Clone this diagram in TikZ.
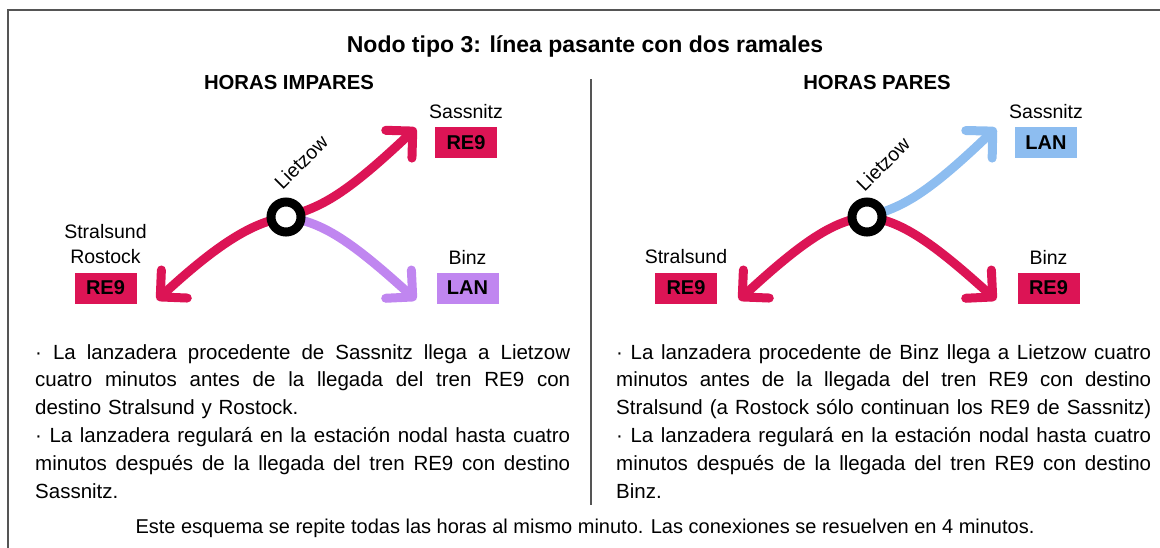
\documentclass[tikz,border=0pt]{standalone}
\usepackage{fontspec}
\setmainfont{Liberation Sans}
\usetikzlibrary{positioning,arrows.meta}
\definecolor{reline}{HTML}{DC1455}
\definecolor{lanlila}{HTML}{C086F0}
\definecolor{lanblue}{HTML}{8DBDF0}
\definecolor{framegray}{HTML}{555555}
\newcommand{\jline}[1]{\makebox[535pt][s]{\spaceskip=0pt\xspaceskip=0pt\relax #1}}

\begin{document}
\begin{tikzpicture}[
		x=1pt, y=-1pt,
		>={Straight Barb[angle=90:27pt, round]},
		train/.style={line width=9pt, line cap=round, ->},
		station/.style={circle, draw=black, fill=white, line width=9pt, minimum size=30pt, inner sep=0pt},
		linebox/.style={minimum width=62pt, minimum height=31pt, inner sep=0pt, font=\fontsize{20}{24}\selectfont\bfseries},
		place/.style={inner sep=0pt, align=center, font=\fontsize{19.5}{25}\selectfont},
		heading/.style={inner sep=0pt, anchor=base, font=\fontsize{20.3}{24}\selectfont\bfseries},
		para/.style={anchor=base west, inner sep=0pt, text width=535pt, align=left, font=\fontsize{20.5}{27.8}\selectfont}
	]
	\useasboundingbox (0,0) rectangle (1160,547);

	% Frame
	\draw[framegray, line width=2pt] (8,560) -- (8,10) -- (1170,10);
	\draw[framegray, line width=1.5pt] (591,79) -- (591,505);

	% Titles
	\node[heading, font=\fontsize{23}{26}\selectfont\bfseries] (title) at (585,52) {Nodo tipo 3: línea pasante con dos ramales};
	\node[heading] (odd) at (289,89) {HORAS IMPARES};
	\node[heading] (even) at (877,89) {HORAS PARES};

	% Odd hours
	\coordinate (lzA) at (286,217);
	\coordinate (tipSasA) at (416,128);
	\coordinate (tipStrA) at (157,300);
	\coordinate (tipBinA) at (416,300);
	\draw[train, reline] (lzA) .. controls (322,207) and (345,195) .. (tipSasA);
	\draw[train, reline] (lzA) .. controls (255,222) and (222,240) .. (tipStrA);
	\draw[train, lanlila] (lzA) .. controls (322,222) and (350,240) .. (tipBinA);
	\node[station] (lietzowA) at (lzA) {};
	\node[place, rotate=45] (lzlblA) at (301,162) {Lietzow};

	\node[linebox, fill=reline] (sasA) at (466,142.5) {RE9};
	\node[place] (saslblA) [above=8pt of sasA] {Sassnitz};
	\node[linebox, fill=reline] (strA) at (105.5,288) {RE9};
	\node[place] (strlblA) [above=8pt of strA] {Stralsund\\Rostock};
	\node[linebox, fill=lanlila] (binA) at (467.5,288) {LAN};
	\node[place] (binlblA) [above=8pt of binA] {Binz};

	% Even hours
	\coordinate (lzB) at (867,217);
	\coordinate (tipSasB) at (996,128);
	\coordinate (tipStrB) at (739,300);
	\coordinate (tipBinB) at (996,300);
	\draw[train, lanblue] (lzB) .. controls (903,207) and (926,195) .. (tipSasB);
	\draw[train, reline] (lzB) .. controls (835,220) and (804,240) .. (tipStrB);
	\draw[train, reline] (lzB) .. controls (899,220) and (930,240) .. (tipBinB);
	\node[station] (lietzowB) at (lzB) {};
	\node[place, rotate=45] (lzlblB) at (883,164) {Lietzow};

	\node[linebox, fill=lanblue] (sasB) at (1046,142.5) {LAN};
	\node[place] (saslblB) [above=8pt of sasB] {Sassnitz};
	\node[linebox, fill=reline] (strB) at (686,288) {RE9};
	\node[place] (strlblB) [above=8pt of strB] {Stralsund};
	\node[linebox, fill=reline] (binB) at (1048.5,288) {RE9};
	\node[place] (binlblB) [above=8pt of binB] {Binz};

	% Texts
	\node[para] (txtA) at (35,359) {%
		\jline{· La lanzadera procedente de Sassnitz llega a Lietzow}\\
		\jline{cuatro minutos antes de la llegada del tren RE9 con}\\
		destino Stralsund y Rostock.\\
		\jline{· La lanzadera regulará en la estación nodal hasta cuatro}\\
		\jline{minutos después de la llegada del tren RE9 con destino}\\
		Sassnitz.};
	\node[para] (txtB) at (616,359) {%
		\jline{· La lanzadera procedente de Binz llega a Lietzow cuatro}\\
		\jline{minutos antes de la llegada del tren RE9 con destino}\\
		\jline{Stralsund (a Rostock sólo continuan los RE9 de Sassnitz)}\\
		\jline{· La lanzadera regulará en la estación nodal hasta cuatro}\\
		\jline{minutos después de la llegada del tren RE9 con destino}\\
		Binz.};
	\node[anchor=base, inner sep=0pt, font=\fontsize{20}{24}\selectfont] (note) at (585,533)
		{Este esquema se repite todas las horas al mismo minuto. Las conexiones se resuelven en 4 minutos.};
\end{tikzpicture}
\end{document}
